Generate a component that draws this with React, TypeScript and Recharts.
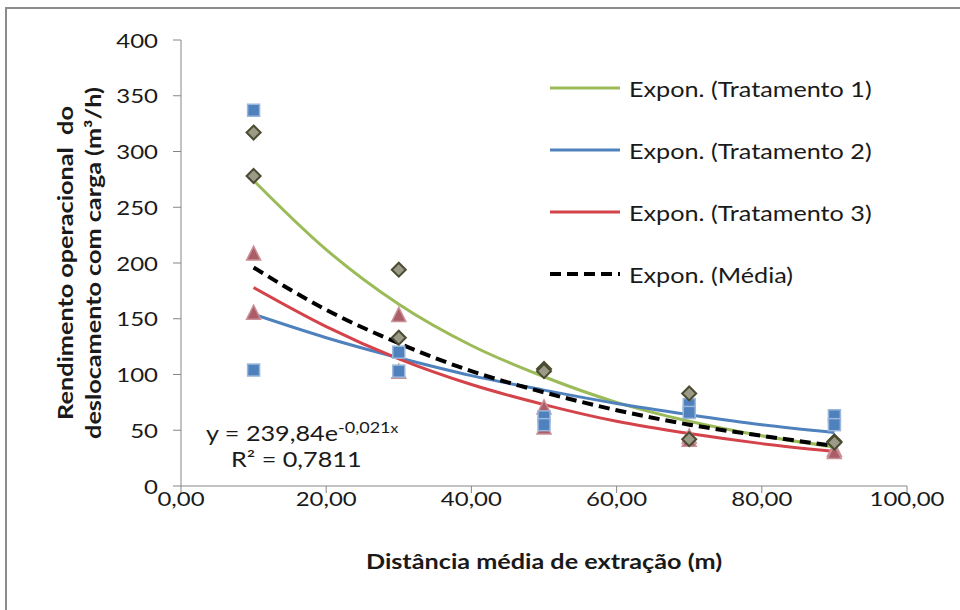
import { ComposedChart, Line, Scatter, XAxis, YAxis } from 'recharts';

// Distância (m) and rendimento (m³/h)
const distances = [10, 10, 30, 30, 50, 50, 70, 70, 90, 90];
const tratamento1 = [317, 278, 194, 133, 105, 103, 83, 42, 40, 39];
const tratamento2 = [337, 104, 120, 103, 62, 55, 73, 66, 63, 55];
const tratamento3 = [208, 155, 153, 102, 70, 52, 44, 41, 32, 30];

// trend lines, sampled along the curves in the picture
const trendX = [10, 20, 30, 40, 50, 60, 70, 80, 90];
const trend1 = [274, 212, 163, 126, 98, 75, 58, 45, 35];
const trend2 = [154, 133, 115, 99, 86, 74, 64, 55, 48];
const trend3 = [178, 143, 114, 91, 73, 58, 47, 38, 31];
const trendMedia = [196, 158, 128, 103, 84, 68, 55, 45, 36];

const xTicks = [0, 20, 40, 60, 80, 100];
const yTicks = [0, 50, 100, 150, 200, 250, 300, 350, 400];

const FONT = 'Lato, "Open Sans", sans-serif';
const AXIS = '#868686';
const TEXT = '#1a1a1a';
// the original (Calibri) is drawn a bit wider than Lato
const STRETCH = 1.2;

const toPoints = (xs: number[], ys: number[]) => xs.map((x, i) => ({ x, y: ys[i] }));

const TRENDS = [
  { key: 't1', label: 'Expon. (Tratamento 1)', color: '#9bbb59', values: trend1, dash: undefined },
  { key: 't2', label: 'Expon. (Tratamento 2)', color: '#4f81bd', values: trend2, dash: undefined },
  { key: 't3', label: 'Expon. (Tratamento 3)', color: '#d4434a', values: trend3, dash: undefined },
  { key: 'media', label: 'Expon. (Média)', color: '#000000', values: trendMedia, dash: '11 6' },
];

const Diamond = (props: any) => {
  const { cx, cy } = props;
  const r = 7;
  return (
    <polygon
      points={`${cx},${cy - r} ${cx + r},${cy} ${cx},${cy + r} ${cx - r},${cy}`}
      fill="#9a9a86"
      stroke="#4b4b32"
      strokeWidth={2}
    />
  );
};

const Square = (props: any) => {
  const { cx, cy } = props;
  return <rect x={cx - 6} y={cy - 6} width={12} height={12} fill="#4f81bd" stroke="#9bb7dc" strokeWidth={1.5} />;
};

const Triangle = (props: any) => {
  const { cx, cy } = props;
  return (
    <polygon
      points={`${cx},${cy - 8} ${cx + 7},${cy + 6} ${cx - 7},${cy + 6}`}
      fill="#ac5e68"
      stroke="#c99097"
      strokeWidth={1.5}
    />
  );
};

const fmtX = (v: number) => v.toFixed(2).replace('.', ',');

const stretchAt = (x: number, y: number) => `translate(${x},${y}) scale(${STRETCH},1) translate(${-x},${-y})`;

const XTick = (props: any) => {
  const { x, payload } = props;
  const y = 498;
  return (
    <text x={x} y={y} textAnchor="middle" dominantBaseline="central" fill={TEXT} fontSize={20} fontFamily={FONT} transform={stretchAt(x, y)}>
      {fmtX(payload.value)}
    </text>
  );
};

const YTick = (props: any) => {
  const { y, payload } = props;
  const x = 158;
  return (
    <text x={x} y={y} textAnchor="end" dominantBaseline="central" fill={TEXT} fontSize={20} fontFamily={FONT} transform={stretchAt(x, y)}>
      {payload.value}
    </text>
  );
};

const stretched = { transform: `scaleX(${STRETCH})`, transformOrigin: 'left center', whiteSpace: 'nowrap' as const };

export default function App() {
  return (
    <div style={{ position: 'absolute', left: 0, top: 0, width: 960, height: 610, background: '#fff', overflow: 'hidden' }}>
      <div
        style={{
          position: 'absolute',
          left: 5,
          top: 7,
          width: 980,
          height: 640,
          border: '2px solid #8c8c8c',
          boxSizing: 'border-box',
        }}
      />
      <ComposedChart
        width={960}
        height={610}
        margin={{ top: 40, right: 53, left: 0, bottom: 0 }}
        style={{ position: 'absolute', left: 0, top: 0 }}
      >
        <XAxis
          type="number"
          dataKey="x"
          domain={[0, 100]}
          ticks={xTicks}
          height={124}
          stroke={AXIS}
          tickSize={7}
          tick={XTick}
          allowDataOverflow
        />
        <YAxis type="number" domain={[0, 400]} ticks={yTicks} width={181} stroke={AXIS} tickSize={8} tick={YTick} />
        {TRENDS.map((t) => (
          <Line
            key={t.key}
            data={toPoints(trendX, t.values)}
            dataKey="y"
            type="monotone"
            stroke={t.color}
            strokeWidth={t.dash ? 4 : 3}
            strokeDasharray={t.dash}
            dot={false}
            activeDot={false}
            isAnimationActive={false}
          />
        ))}
        {/* stacking as seen in the picture: triangles below squares, diamonds on top */}
        <Scatter data={toPoints(distances, tratamento3)} dataKey="y" shape={Triangle} isAnimationActive={false} />
        <Scatter data={toPoints(distances, tratamento2)} dataKey="y" shape={Square} isAnimationActive={false} />
        <Scatter data={toPoints(distances, tratamento1)} dataKey="y" shape={Diamond} isAnimationActive={false} />
      </ComposedChart>

      {/* legend: only the trend lines, as in the original */}
      <div style={{ position: 'absolute', left: 548, top: 57, fontFamily: FONT, fontSize: 21, color: TEXT }}>
        {TRENDS.map((t) => (
          <div key={t.key} style={{ display: 'flex', alignItems: 'center', height: 62 }}>
            <svg width={76} height={10}>
              <line x1={2} y1={5} x2={72} y2={5} stroke={t.color} strokeWidth={t.dash ? 4 : 3} strokeDasharray={t.dash} />
            </svg>
            <span style={{ marginLeft: 5, display: 'inline-block', ...stretched }}>{t.label}</span>
          </div>
        ))}
      </div>

      {/* y axis title, two rotated lines */}
      <div
        style={{
          position: 'absolute',
          left: 81 - 200,
          top: 263 - 30,
          width: 400,
          height: 60,
          transform: `rotate(-90deg) scaleX(${STRETCH})`,
          fontFamily: FONT,
          fontWeight: 700,
          fontSize: 21,
          lineHeight: '28px',
          textAlign: 'center',
          color: TEXT,
          whiteSpace: 'pre',
        }}
      >
        {'Rendimento operacional  do\ndeslocamento com carga (m³/h)'}
      </div>

      <div
        style={{
          position: 'absolute',
          left: 244,
          top: 548,
          width: 600,
          textAlign: 'center',
          fontFamily: FONT,
          fontWeight: 700,
          fontSize: 21,
          color: TEXT,
          transform: `scaleX(${STRETCH})`,
          transformOrigin: '300px 0',
        }}
      >
        Distância média de extração (m)
      </div>

      <div style={{ position: 'absolute', left: 206, top: 418, fontFamily: FONT, fontSize: 21, color: TEXT, ...stretched }}>
        y = 239,84e<sup style={{ fontSize: 15, verticalAlign: 8 }}>-0,021<span style={{ fontSize: 13 }}>x</span></sup>
      </div>
      <div style={{ position: 'absolute', left: 231, top: 446, fontFamily: FONT, fontSize: 21, color: TEXT, ...stretched }}>
        R² = 0,7811
      </div>
    </div>
  );
}
